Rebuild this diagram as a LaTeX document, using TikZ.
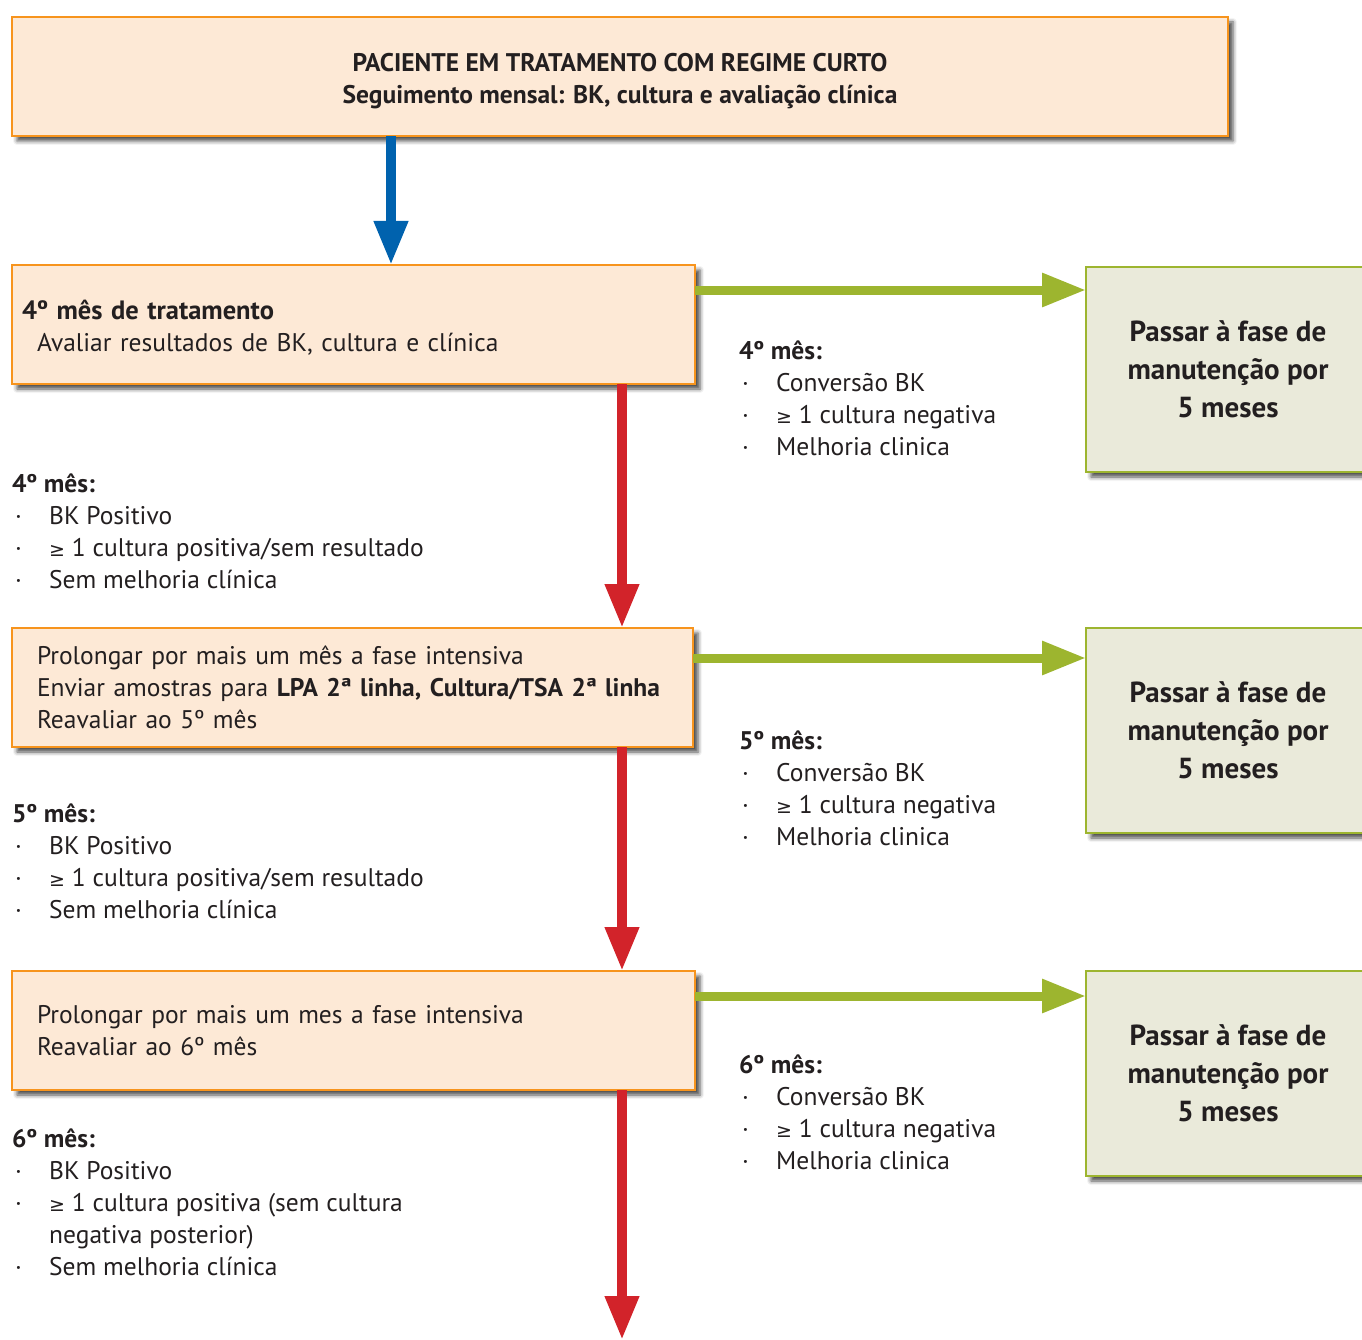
\documentclass[tikz,border=0pt]{standalone}
\usepackage{fontspec}
\setmainfont{PT Sans}
\newfontfamily\symfont{DejaVu Sans}
\usetikzlibrary{arrows.meta,shadows.blur,positioning}

\definecolor{caixalaranja}{HTML}{F7941D}
\definecolor{fundolaranja}{HTML}{FDE9D6}
\definecolor{verdeseta}{HTML}{9DB52F}
\definecolor{fundoverde}{HTML}{EAEADA}
\definecolor{vermelhoseta}{HTML}{D2232A}
\definecolor{azulseta}{HTML}{0062AE}
\definecolor{texto}{HTML}{231F20}

\newcommand{\maiorig}{{\symfont\fontsize{19}{32}\selectfont ≥}}
\newcommand{\ponto}[1]{\hspace*{3pt}\makebox[34pt][l]{\textperiodcentered}#1}
\newcommand{\linhatopo}{\rule{0pt}{26pt}}

\begin{document}
\begin{tikzpicture}[x=1pt, y=-1pt, text=texto,
		caixa/.style={draw=caixalaranja, fill=fundolaranja, line width=2.5pt, anchor=north west,
			minimum width=683pt, minimum height=119pt, align=left, outer sep=0pt,
			font=\fontsize{25.5}{32}\selectfont,
			blur shadow={shadow xshift=5pt, shadow yshift=-5pt, shadow blur radius=4pt, shadow opacity=70}},
		caixaverde/.style={draw=verdeseta, fill=fundoverde, line width=2.5pt, anchor=north west,
			minimum width=284pt, minimum height=205pt, align=center, outer sep=0pt,
			font=\bfseries\fontsize{29}{38}\selectfont,
			blur shadow={shadow xshift=5pt, shadow yshift=-5pt, shadow blur radius=4pt, shadow opacity=70}},
		lista/.style={anchor=north west, inner sep=0pt, align=left, font=\fontsize{25.5}{32}\selectfont},
		setaverde/.style={draw=verdeseta, line width=9pt, -{Triangle[width=32pt,length=44pt]}},
		setavermelha/.style={draw=vermelhoseta, line width=10pt, -{Triangle[width=32pt,length=44pt]}},
		setaazul/.style={draw=azulseta, line width=10pt, -{Triangle[width=32pt,length=44pt]}}]
	\useasboundingbox (0,0) rectangle (1362,1340);
	
	% 1. caixa do topo
	\node[caixa, minimum width=1216pt, align=center, font=\bfseries\fontsize{25.5}{32}\selectfont] (topo) at (12,17)
		{\rule{0pt}{28pt}PACIENTE EM TRATAMENTO COM REGIME CURTO\\Seguimento mensal: BK, cultura e avaliação clínica};
	
	% 2. caixas laranja (fase intensiva)
	\node[caixa, inner xsep=10pt, text width=663pt] (mes4) at (12,265)
		{\rule{0pt}{26pt}{\bfseries\fontsize{26.5}{32}\selectfont 4º mês de tratamento}\\\hspace*{15pt}Avaliar resultados de BK, cultura e clínica};
	\node[caixa, minimum width=681pt, inner xsep=25pt, text width=631pt] (mes5) at (12,628)
		{Prolongar por mais um mês a fase intensiva\\Enviar amostras para \textbf{LPA 2ª linha, Cultura/TSA 2ª linha}\\Reavaliar ao 5º mês};
	\node[caixa, inner xsep=25pt, text width=633pt] (mes6) at (12,971)
		{Prolongar por mais um mes a fase intensiva\\Reavaliar ao 6º mês};
	
	% 3. caixas verdes (manutenção)
	\node[caixaverde] (manut4) at (1086,267) {Passar à fase de\\manutenção por\\5 meses};
	\node[caixaverde] (manut5) at (1086,628) {Passar à fase de\\manutenção por\\5 meses};
	\node[caixaverde] (manut6) at (1086,971) {Passar à fase de\\manutenção por\\5 meses};
	
	% 4. setas
	\coordinate (eixoazul) at (391,0);
	\coordinate (fim) at (622,1340);
	\draw[setaazul] (topo.south -| eixoazul) -- (mes4.north -| eixoazul);
	\draw[setavermelha] (mes4.south -| fim) -- (mes5.north -| fim);
	\draw[setavermelha] (mes5.south -| fim) -- (mes6.north -| fim);
	\draw[setavermelha] (mes6.south -| fim) -- (fim);
	\draw[setaverde] ([yshift=-25pt]mes4.north east) -- ([yshift=-25pt]mes4.north east -| manut4.west);
	\draw[setaverde] ([yshift=-30pt]mes5.north east) -- ([yshift=-30pt]mes5.north east -| manut5.west);
	\draw[setaverde] ([yshift=-25pt]mes6.north east) -- ([yshift=-25pt]mes6.north east -| manut6.west);
	
	% 5. critérios (direita: conversão; esquerda: sem conversão)
	\node[lista] (sim4) at (739,333) {\linhatopo\textbf{4º mês:}\\\ponto{Conversão BK}\\\ponto{\maiorig\ 1 cultura negativa}\\\ponto{Melhoria clinica}};
	\node[lista] (sim5) at (739,723) {\linhatopo\textbf{5º mês:}\\\ponto{Conversão BK}\\\ponto{\maiorig\ 1 cultura negativa}\\\ponto{Melhoria clinica}};
	\node[lista] (sim6) at (739,1047) {\linhatopo\textbf{6º mês:}\\\ponto{Conversão BK}\\\ponto{\maiorig\ 1 cultura negativa}\\\ponto{Melhoria clinica}};
	
	\node[lista] (nao4) at (12,466) {\linhatopo\textbf{4º mês:}\\\ponto{BK Positivo}\\\ponto{\maiorig\ 1 cultura positiva/sem resultado}\\\ponto{Sem melhoria clínica}};
	\node[lista] (nao5) at (12,796) {\linhatopo\textbf{5º mês:}\\\ponto{BK Positivo}\\\ponto{\maiorig\ 1 cultura positiva/sem resultado}\\\ponto{Sem melhoria clínica}};
	\node[lista] (nao6) at (12,1121) {\linhatopo\textbf{6º mês:}\\\ponto{BK Positivo}\\\ponto{\maiorig\ 1 cultura positiva (sem cultura}\\\hspace*{37pt}negativa posterior)\\\ponto{Sem melhoria clínica}};
\end{tikzpicture}
\end{document}
